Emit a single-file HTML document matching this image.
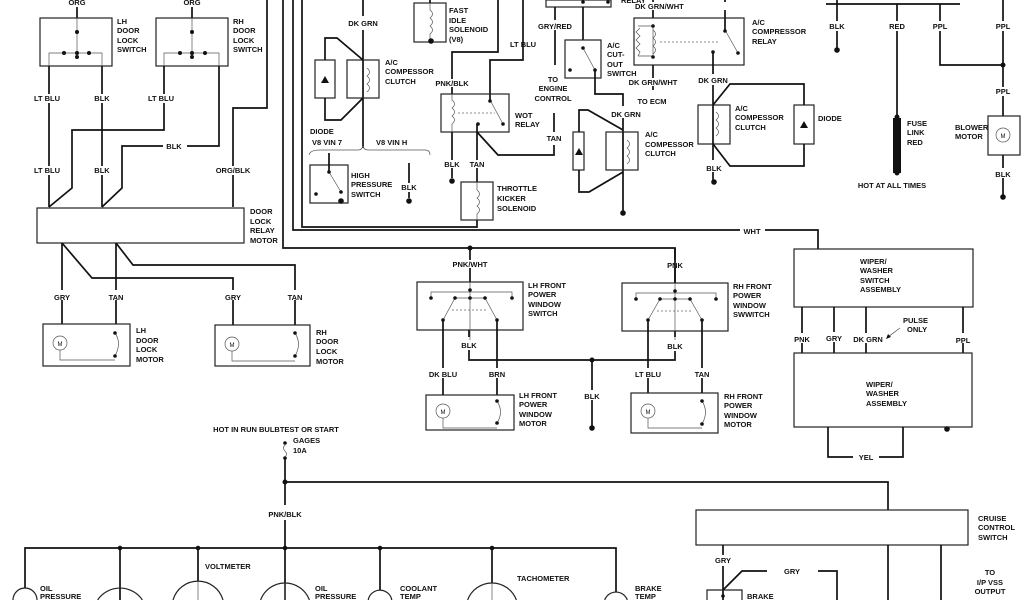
<!DOCTYPE html>
<html><head><meta charset="utf-8"><style>
html,body{margin:0;padding:0;background:#fff;width:1024px;height:600px;overflow:hidden;}
svg{display:block;overflow:hidden}
text{font-family:"Liberation Sans",sans-serif;font-weight:bold;font-size:7.5px;fill:#111}
.w{stroke:#111;stroke-width:1.7;fill:none}
.b{stroke:#222;stroke-width:1.2;fill:none}
.t{stroke:#555;stroke-width:0.7;fill:none}
.d{stroke:#666;stroke-width:0.7;fill:none;stroke-dasharray:2,2}
.m{text-anchor:middle}
</style></head><body>
<svg width="1024" height="600" viewBox="0 0 1024 600" xmlns="http://www.w3.org/2000/svg">
<rect width="1024" height="600" fill="#fff"/>
<g fill="#111">
<text x="77" y="5" class="m">ORG</text>
<text x="192" y="5" class="m">ORG</text>
<path class="w" d="M77 7V18M192 7V18"/>
<rect class="b" x="40" y="18" width="72" height="48"/>
<rect class="b" x="156" y="18" width="72" height="48"/>
<path class="t" d="M77 18V56M49 66V53H102V66M192 18V56M164 66V53H219V66"/>
<circle cx="77" cy="32" r="2"/><circle cx="64" cy="53" r="2"/><circle cx="77" cy="53" r="2"/><circle cx="89" cy="53" r="2"/><circle cx="77" cy="57" r="2"/>
<circle cx="192" cy="32" r="2"/><circle cx="180" cy="53" r="2"/><circle cx="192" cy="53" r="2"/><circle cx="205" cy="53" r="2"/><circle cx="192" cy="57" r="2"/>
<text x="117" y="24">LH</text><text x="117" y="33">DOOR</text><text x="117" y="43">LOCK</text><text x="117" y="52">SWITCH</text>
<text x="233" y="24">RH</text><text x="233" y="33">DOOR</text><text x="233" y="43">LOCK</text><text x="233" y="52">SWITCH</text>
<path class="w" d="M49 66V207M102 66V207M164 66V130H72V188L49 207M219 66V146H187M163 146H122V188L102 207M267 0V108H233V207"/>
<rect x="30" y="94" width="34" height="9" fill="#fff"/><text x="47" y="101" class="m">LT BLU</text>
<rect x="90" y="94" width="24" height="9" fill="#fff"/><text x="102" y="101" class="m">BLK</text>
<rect x="145" y="94" width="34" height="9" fill="#fff"/><text x="161" y="101" class="m">LT BLU</text>
<text x="174" y="149" class="m">BLK</text>
<rect x="30" y="166" width="34" height="9" fill="#fff"/><text x="47" y="173" class="m">LT BLU</text>
<rect x="90" y="166" width="24" height="9" fill="#fff"/><text x="102" y="173" class="m">BLK</text>
<rect x="216" y="166" width="34" height="9" fill="#fff"/><text x="233" y="173" class="m">ORG/BLK</text>
<rect class="b" x="37" y="208" width="207" height="35"/>
<text x="250" y="214">DOOR</text><text x="250" y="224">LOCK</text><text x="250" y="233">RELAY</text><text x="250" y="243">MOTOR</text>
<path class="w" d="M62 243V290M62 243L92 278H233V290M116 243V290M116 243L133 265H295V290M62 300V324M116 300V324M233 300V325M295 300V325"/>
<text x="62" y="300" class="m">GRY</text><text x="116" y="300" class="m">TAN</text><text x="233" y="300" class="m">GRY</text><text x="295" y="300" class="m">TAN</text>
<rect class="b" x="43" y="324" width="87" height="42"/>
<rect class="b" x="215" y="325" width="95" height="41"/>
<circle class="t" cx="60" cy="343" r="7"/><text x="60" y="346" class="m" style="font-size:6px;font-weight:normal">M</text>
<circle class="t" cx="232" cy="344" r="7"/><text x="232" y="347" class="m" style="font-size:6px;font-weight:normal">M</text>
<path class="t" d="M60 350V360H115M115 333Q122 343 115 356M232 351V361H295M295 333Q302 344 295 356"/>
<circle cx="115" cy="333" r="1.8"/><circle cx="115" cy="356" r="1.8"/><circle cx="295" cy="333" r="1.8"/><circle cx="295" cy="356" r="1.8"/>
<text x="136" y="333">LH</text><text x="136" y="343">DOOR</text><text x="136" y="352">LOCK</text><text x="136" y="362">MOTOR</text>
<text x="316" y="335">RH</text><text x="316" y="344">DOOR</text><text x="316" y="354">LOCK</text><text x="316" y="364">MOTOR</text>

<path class="w" d="M283 0V248H675V283M293 0V230H740M765 230H818V249M302 0V227H477V220"/>
<circle cx="470" cy="248" r="2.5"/>
<text x="363" y="26" class="m">DK GRN</text>
<path class="w" d="M363 0V16M363 30V148"/>
<rect class="b" x="315" y="60" width="20" height="38"/>
<rect class="b" x="347" y="60" width="32" height="38"/>
<path class="w" d="M325 60V38H337L363 60M325 98V120H341L363 98"/>
<path d="M321 83H329L325 76Z"/><path class="t" d="M367 68Q372 72 367 76Q372 80 367 84Q372 88 367 92"/>
<text x="385" y="65">A/C</text><text x="385" y="74">COMPESSOR</text><text x="385" y="84">CLUTCH</text>
<text x="310" y="134">DIODE</text><text x="312" y="145">V8 VIN 7</text><text x="376" y="145">V8 VIN H</text>
<path class="t" d="M309 155Q310 150 320 150H358Q362 150 363 146Q364 150 368 150H425Q430 150 430 155"/>
<rect class="b" x="310" y="165" width="38" height="38"/>
<path class="w" d="M329 153V172"/>
<path class="t" d="M329 172L341 192"/><circle cx="329" cy="172" r="1.8"/><circle cx="341" cy="192" r="1.8"/><circle cx="316" cy="194" r="1.8"/><circle cx="341" cy="201" r="2.8"/>
<text x="351" y="178">HIGH</text><text x="351" y="187">PRESSURE</text><text x="351" y="197">SWITCH</text>
<path class="w" d="M409 163V198"/><circle cx="409" cy="201" r="2.8"/><rect x="400" y="183" width="20" height="9" fill="#fff"/><text x="409" y="190" class="m">BLK</text>
<path class="w" d="M430 0V3"/>
<rect class="b" x="414" y="3" width="32" height="39"/>
<path class="t" d="M430 3V10Q435 14 430 18Q435 22 430 26Q435 30 430 34V40"/><circle cx="431" cy="41" r="2.8"/>
<text x="449" y="13">FAST</text><text x="449" y="23">IDLE</text><text x="449" y="32">SOLENOID</text><text x="449" y="42">(V8)</text>
<path class="w" d="M498 0V52H452V79M452 87V94M523 0V60H490V100"/>
<text x="452" y="86" class="m">PNK/BLK</text><text x="510" y="47">LT BLU</text>
<rect class="b" x="441" y="94" width="68" height="38"/>
<path class="t" d="M452 94V100Q457 104 452 108Q457 112 452 116Q457 120 452 124V132M490 100L503 124" />
<path class="d" d="M458 113H495"/>
<circle cx="490" cy="101" r="1.8"/><circle cx="503" cy="124" r="1.8"/><circle cx="478" cy="124" r="1.8"/>
<text x="515" y="118">WOT</text><text x="515" y="127">RELAY</text>
<path class="w" d="M452 132V160M452 168V178M477 124V160M477 168V182M477 132L498 155H554V145M554 132V113"/>
<circle cx="452" cy="181" r="2.8"/>
<text x="452" y="167" class="m">BLK</text><text x="477" y="167" class="m">TAN</text><text x="554" y="141" class="m">TAN</text>
<rect class="b" x="461" y="182" width="32" height="38"/>
<path class="t" d="M477 182V190Q482 194 477 198Q482 202 477 206Q482 210 477 214V220"/>
<text x="497" y="191">THROTTLE</text><text x="497" y="201">KICKER</text><text x="497" y="211">SOLENOID</text>
<rect class="b" x="546" y="0" width="65" height="7"/><text x="621" y="3">RELAY</text>
<path class="w" d="M555 7V20M555 30V65M583 7V40"/><circle cx="583" cy="2" r="1.8"/><circle cx="608" cy="2" r="1.8"/>
<text x="555" y="29" class="m">GRY/RED</text>
<text x="553" y="82" class="m">TO</text><text x="553" y="91" class="m">ENGINE</text><text x="553" y="101" class="m">CONTROL</text>
<rect class="b" x="565" y="40" width="36" height="38"/>
<path class="t" d="M583 48L595 70"/><circle cx="583" cy="48" r="1.8"/><circle cx="595" cy="70" r="1.8"/><circle cx="570" cy="70" r="1.8"/>
<text x="607" y="48">A/C</text><text x="607" y="57">CUT-</text><text x="607" y="67">OUT</text><text x="607" y="76">SWITCH</text>
<path class="w" d="M595 70V94H623V106M623 118V213"/>
<text x="626" y="117" class="m">DK GRN</text>
<rect class="b" x="573" y="132" width="11" height="38"/>
<rect class="b" x="606" y="132" width="32" height="38"/>
<path class="w" d="M579 132V110H588L623 130M579 170V192H589L623 172"/>
<path d="M575 155H583L579 148Z"/><path class="t" d="M627 140Q632 144 627 148Q632 152 627 156Q632 160 627 164"/>
<circle cx="623" cy="213" r="2.8"/>
<text x="645" y="137">A/C</text><text x="645" y="147">COMPESSOR</text><text x="645" y="156">CLUTCH</text>
<path class="w" d="M653 0V2M653 10V18M653 65V78M653 86V90M725 0V2M725 10V30"/>
<text x="635" y="9">DK GRN/WHT</text>
<rect class="b" x="634" y="18" width="110" height="47"/>
<path class="t" d="M653 26V56M638 26H653M638 56H653M640 28L636 32L640 36L636 40L640 44L636 48L640 52L638 56M653 30Q658 34 653 38Q658 42 653 46Q658 50 653 54"/>
<path class="d" d="M660 42H720"/>
<path class="t" d="M725 30L738 53"/><circle cx="653" cy="26" r="1.8"/><circle cx="653" cy="57" r="1.8"/><circle cx="725" cy="31" r="1.8"/><circle cx="738" cy="53" r="1.8"/><circle cx="713" cy="52" r="1.8"/>
<text x="752" y="25">A/C</text><text x="752" y="34">COMPRESSOR</text><text x="752" y="44">RELAY</text>
<text x="653" y="85" class="m">DK GRN/WHT</text><text x="652" y="104" class="m">TO ECM</text>
<path class="w" d="M713 52V74M713 85V105M713 144V160M713 172V180"/>
<text x="713" y="83" class="m">DK GRN</text>
<rect class="b" x="698" y="105" width="32" height="39"/>
<rect class="b" x="794" y="105" width="20" height="39"/>
<path class="w" d="M713 105L730 84H804V105M713 144L730 166H804V144M713 105V144"/>
<path class="t" d="M716 112Q721 116 716 120Q721 124 716 128Q721 132 716 136"/>
<path d="M800 128H808L804 121Z"/>
<text x="714" y="171" class="m">BLK</text><circle cx="714" cy="182" r="2.8"/>
<text x="735" y="111">A/C</text><text x="735" y="120">COMPESSOR</text><text x="735" y="130">CLUTCH</text>
<text x="818" y="121">DIODE</text>
<path class="w" d="M826 4H960M837 0V21M837 31V49M897 4V21M897 31V118M940 4V21M940 31V65H1003M1003 0V21M1003 31V87M1003 96V116M1003 155V168M1003 178V196"/>
<circle cx="837" cy="50" r="2.8"/><circle cx="1003" cy="65" r="2.5"/><circle cx="1003" cy="197" r="2.8"/>
<text x="837" y="29" class="m">BLK</text><text x="897" y="29" class="m">RED</text><text x="940" y="29" class="m">PPL</text><text x="1003" y="29" class="m">PPL</text><text x="1003" y="94" class="m">PPL</text><text x="1003" y="177" class="m">BLK</text>
<rect x="893" y="118" width="8" height="55"/><circle cx="897" cy="117" r="2.5"/><circle cx="897" cy="173" r="2.5"/>
<text x="907" y="126">FUSE</text><text x="907" y="135">LINK</text><text x="907" y="145">RED</text>
<text x="892" y="188" class="m">HOT AT ALL TIMES</text>
<rect class="b" x="988" y="116" width="32" height="39"/><circle class="t" cx="1003" cy="135" r="7"/><text x="1003" y="138" class="m" style="font-size:6px;font-weight:normal">M</text>
<text x="955" y="130">BLOWER</text><text x="955" y="139">MOTOR</text>
<text x="752" y="234" class="m">WHT</text>

<path class="w" d="M470 248V260M470 268V282M675 248V260M675 268V283"/>
<text x="470" y="267" class="m">PNK/WHT</text><text x="675" y="268" class="m">PNK</text>
<rect class="b" x="417" y="282" width="106" height="48"/>
<rect class="b" x="622" y="283" width="106" height="48"/>
<g class="t">
<path d="M470 282V340M431 298V292H512V298M455 298H485M443 320L455 298M497 320L485 298M675 283V340M636 299V293H716V299M660 299H690M648 320L660 299M702 320L690 299"/>
</g>
<path class="d" d="M452 310H488M657 311H693"/>
<g><circle cx="470" cy="290" r="1.8"/><circle cx="431" cy="298" r="1.8"/><circle cx="455" cy="298" r="1.8"/><circle cx="470" cy="298" r="1.8"/><circle cx="485" cy="298" r="1.8"/><circle cx="512" cy="298" r="1.8"/><circle cx="443" cy="320" r="1.8"/><circle cx="497" cy="320" r="1.8"/>
<circle cx="675" cy="291" r="1.8"/><circle cx="636" cy="299" r="1.8"/><circle cx="660" cy="299" r="1.8"/><circle cx="675" cy="299" r="1.8"/><circle cx="690" cy="299" r="1.8"/><circle cx="716" cy="299" r="1.8"/><circle cx="648" cy="320" r="1.8"/><circle cx="702" cy="320" r="1.8"/></g>
<text x="528" y="288">LH FRONT</text><text x="528" y="297">POWER</text><text x="528" y="307">WINDOW</text><text x="528" y="316">SWITCH</text>
<text x="733" y="289">RH FRONT</text><text x="733" y="298">POWER</text><text x="733" y="308">WINDOW</text><text x="733" y="317">SWWITCH</text>
<path class="w" d="M469 330V337M469 350V360H675V351M675 331V337M592 360V390M592 400V426M443 320V368M443 378V395M497 320V368M497 378V395M648 320V368M648 378V393M702 320V368M702 378V393"/>
<circle cx="592" cy="360" r="2.5"/><circle cx="592" cy="428" r="2.8"/>
<text x="469" y="348" class="m">BLK</text><text x="675" y="349" class="m">BLK</text><text x="592" y="399" class="m">BLK</text>
<text x="443" y="377" class="m">DK BLU</text><text x="497" y="377" class="m">BRN</text><text x="648" y="377" class="m">LT BLU</text><text x="702" y="377" class="m">TAN</text>
<rect class="b" x="426" y="395" width="88" height="35"/>
<rect class="b" x="631" y="393" width="87" height="40"/>
<circle class="t" cx="443" cy="411" r="7"/><text x="443" y="414" class="m" style="font-size:6px;font-weight:normal">M</text>
<circle class="t" cx="648" cy="411" r="7"/><text x="648" y="414" class="m" style="font-size:6px;font-weight:normal">M</text>
<path class="t" d="M443 418V428H497M497 401Q504 412 497 423M648 418V428H702M702 401Q709 412 702 424"/>
<circle cx="497" cy="401" r="1.8"/><circle cx="497" cy="423" r="1.8"/><circle cx="702" cy="401" r="1.8"/><circle cx="702" cy="424" r="1.8"/>
<text x="519" y="398">LH FRONT</text><text x="519" y="407">POWER</text><text x="519" y="417">WINDOW</text><text x="519" y="426">MOTOR</text>
<text x="724" y="399">RH FRONT</text><text x="724" y="408">POWER</text><text x="724" y="418">WINDOW</text><text x="724" y="427">MOTOR</text>

<rect class="b" x="794" y="249" width="179" height="58"/>
<text x="860" y="264">WIPER/</text><text x="860" y="273">WASHER</text><text x="860" y="283">SWITCH</text><text x="860" y="292">ASSEMBLY</text>
<path class="w" d="M802 307V333M802 343V353M834 307V332M834 342V353M866 307V333M866 343V353M963 307V333M963 343V353"/>
<text x="802" y="342" class="m">PNK</text><text x="834" y="341" class="m">GRY</text><text x="868" y="342" class="m">DK GRN</text><text x="963" y="343" class="m">PPL</text>
<text x="903" y="323">PULSE</text><text x="907" y="332">ONLY</text><path class="t" d="M900 328L888 337"/><path d="M886 339L888 334L891 337Z"/>
<rect class="b" x="794" y="353" width="178" height="74"/>
<text x="866" y="387">WIPER/</text><text x="866" y="396">WASHER</text><text x="866" y="406">ASSEMBLY</text>
<path class="w" d="M828 427V457H853M879 457H903V427"/><text x="866" y="460" class="m">YEL</text>
<circle cx="947" cy="429" r="2.8"/>

<text x="276" y="432" class="m">HOT IN RUN BULBTEST OR START</text>
<text x="293" y="443">GAGES</text><text x="293" y="453">10A</text>
<circle cx="285" cy="443" r="1.8"/><circle cx="285" cy="458" r="1.8"/>
<path class="t" d="M285 445Q282 448 285 451Q288 454 285 457"/>
<path class="w" d="M285 458V505M285 520V600M285 482H888V510M25 588V548H616V592M120 548V600M198 548V581M380 548V590M492 548V583"/>
<circle cx="285" cy="482" r="2.5"/>
<g><circle cx="120" cy="548" r="2.3"/><circle cx="198" cy="548" r="2.3"/><circle cx="285" cy="548" r="2.3"/><circle cx="380" cy="548" r="2.3"/><circle cx="492" cy="548" r="2.3"/></g>
<text x="285" y="517" class="m">PNK/BLK</text>
<path class="b" fill="#fff" d="M13 600A12 12 0 0 1 37 600M97.6 600A27 27 0 0 1 142.4 600M173 600A26 26 0 0 1 223 600M260.6 600A26 26 0 0 1 309.4 600M368.2 600A12 12 0 0 1 391.8 600M467.6 600A26 26 0 0 1 516.4 600M604.7 600A12 12 0 0 1 627.3 600"/>
<path class="t" d="M198 581V600M285 583V600M492 583V600"/>
<text x="40" y="591">OIL</text><text x="40" y="599">PRESSURE</text>
<text x="205" y="569">VOLTMETER</text>
<text x="315" y="591">OIL</text><text x="315" y="599">PRESSURE</text>
<text x="400" y="591">COOLANT</text><text x="400" y="599">TEMP</text>
<text x="517" y="581">TACHOMETER</text>
<text x="635" y="591">BRAKE</text><text x="635" y="599">TEMP</text>
<rect class="b" x="696" y="510" width="272" height="35"/>
<text x="978" y="521">CRUISE</text><text x="978" y="530">CONTROL</text><text x="978" y="540">SWITCH</text>
<path class="w" d="M723 545V555M723 566V600M723 590L742 571H767M818 571H837V600M888 545V600M941 545V600"/>
<text x="723" y="563" class="m">GRY</text><text x="792" y="574" class="m">GRY</text>
<path class="b" d="M707 600V590H742V600"/><circle cx="723" cy="596" r="1.8"/>
<text x="747" y="599">BRAKE</text>
<text x="990" y="575" class="m">TO</text><text x="990" y="585" class="m">I/P VSS</text><text x="990" y="594" class="m">OUTPUT</text>
</g>
</svg>
</body></html>
